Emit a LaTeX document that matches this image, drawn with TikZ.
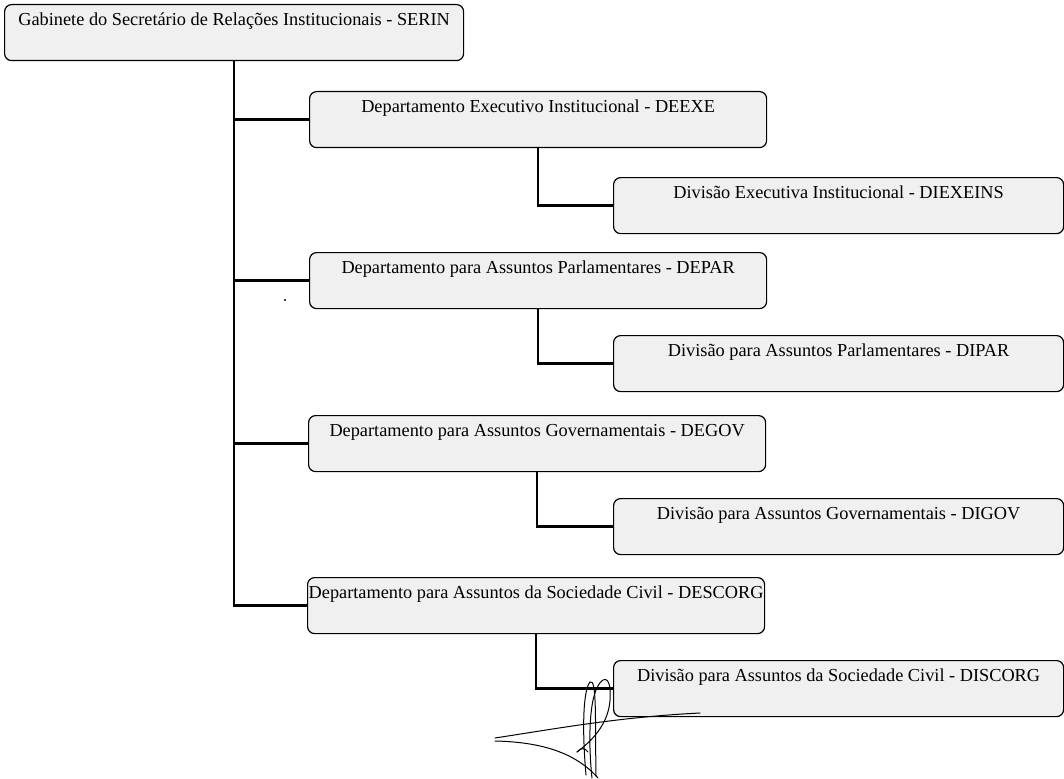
\documentclass[tikz,border=0pt]{standalone}
\usepackage{fontspec}
\setmainfont{Liberation Serif}
\begin{document}
\begin{tikzpicture}[x=1pt,y=-1pt,
  unitbox/.style={draw, line width=1.2pt, rounded corners=7pt, fill=black!6,
    inner xsep=0pt, inner ysep=0pt, text height=21pt, text depth=35pt,
    anchor=north west, font=\fontsize{18.3}{21}\selectfont},
  topbox/.style={unitbox, minimum width=459pt},
  deptbox/.style={unitbox, minimum width=457pt},
  divbox/.style={unitbox, minimum width=450pt},
  link/.style={line width=2.6pt},
  ink/.style={line width=1pt, line cap=round}]
\useasboundingbox (0,0) rectangle (1064,778);

% organisational units
\node[topbox]  (serin)    at (4,4)     {Gabinete do Secretário de Relações Institucionais - SERIN};
\node[deptbox] (deexe)    at (309,91)  {Departamento Executivo Institucional - DEEXE};
\node[divbox]  (diexeins) at (613,177) {Divisão Executiva Institucional - DIEXEINS};
\node[deptbox] (depar)    at (309,252) {Departamento para Assuntos Parlamentares - DEPAR};
\node[divbox]  (dipar)    at (613,335) {Divisão para Assuntos Parlamentares - DIPAR};
\node[deptbox] (degov)    at (308,415) {Departamento para Assuntos Governamentais - DEGOV};
\node[divbox]  (digov)    at (613,498) {Divisão para Assuntos Governamentais - DIGOV};
\node[deptbox] (descorg)  at (307,577) {Departamento para Assuntos da Sociedade Civil - DESCORG};
\node[divbox]  (discorg)  at (613,660) {Divisão para Assuntos da Sociedade Civil - DISCORG};

% hierarchy lines
\draw[link] (serin.south) |- (descorg.west);
\foreach \d in {deexe,depar,degov}
  \draw[link] (serin.south |- \d.west) -- (\d.west);
\draw[link] (deexe.south)   |- (diexeins.west);
\draw[link] (depar.south)   |- (dipar.west);
\draw[link] (degov.south)   |- (digov.west);
\draw[link] (descorg.south) |- (discorg.west);

% stray mark
\fill (285,300) circle (1.2pt);

% signature
\draw[ink] (495,738) .. controls (560,728) and (620,717) .. (700,713);
\draw[ink] (495,741) .. controls (540,742) and (575,752) .. (598,778);
\draw[ink] (586,775) .. controls (582,730) and (583,690) .. (590,682)
                     .. controls (597,678) and (595,720) .. (596,776);
\draw[ink] (577,752) .. controls (600,735) and (612,715) .. (610,690)
                     .. controls (609,672) and (598,678) .. (593,700)
                     .. controls (588,725) and (590,760) .. (592,778);
\draw[ink] (577,752) .. controls (581,747) and (585,748) .. (588,752);
\end{tikzpicture}
\end{document}
